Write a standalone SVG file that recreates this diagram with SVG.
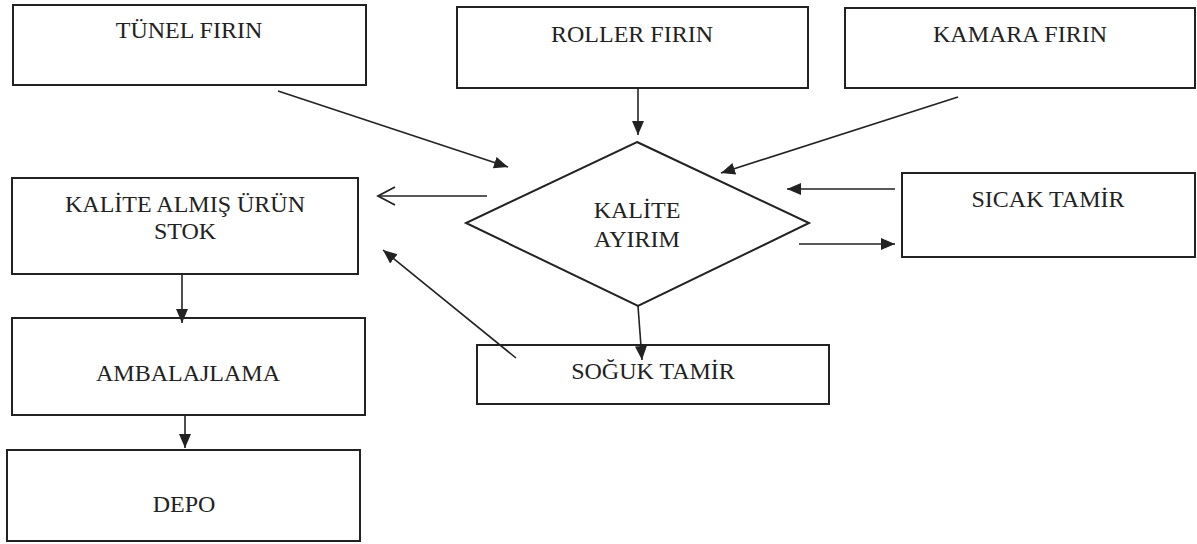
<svg xmlns="http://www.w3.org/2000/svg" width="1197" height="544" viewBox="0 0 1197 544">
<style>
.box{fill:#fff;stroke:#222;stroke-width:2}
.lbl{font-family:"Liberation Serif","Times New Roman",serif;font-size:24px;fill:#222;text-anchor:middle}
.con{stroke:#222;stroke-width:1.6;fill:none}
</style>
<defs>
<marker id="fa" markerUnits="userSpaceOnUse" markerWidth="16" markerHeight="14" refX="14" refY="6" orient="auto">
<path d="M0,0 L14,6 L0,12 z" fill="#222"/>
</marker>
<marker id="oa" markerUnits="userSpaceOnUse" markerWidth="20" markerHeight="22" refX="18" refY="10" orient="auto">
<path d="M1,1 L18,10 L1,19" fill="none" stroke="#222" stroke-width="1.8"/>
</marker>
</defs>
<rect width="1197" height="544" fill="#fff"/>
<g id="tunel"><rect class="box" x="13" y="5" width="353" height="80"/><text class="lbl" x="189" y="38">TÜNEL FIRIN</text></g>
<g id="roller"><rect class="box" x="457" y="7" width="351" height="81"/><text class="lbl" x="632" y="42">ROLLER FIRIN</text></g>
<g id="kamara"><rect class="box" x="845" y="8" width="350" height="80"/><text class="lbl" x="1020" y="42">KAMARA FIRIN</text></g>
<g id="stok"><rect class="box" x="12" y="178" width="346" height="96"/><text class="lbl" x="185" y="212">KALİTE ALMIŞ ÜRÜN</text><text class="lbl" x="185" y="239">STOK</text></g>
<g id="ambalaj"><rect class="box" x="12" y="318" width="353" height="97"/><text class="lbl" x="188" y="381">AMBALAJLAMA</text></g>
<g id="depo"><rect class="box" x="7" y="450" width="353" height="91"/><text class="lbl" x="184" y="512">DEPO</text></g>
<g id="sicak"><rect class="box" x="902" y="173" width="293" height="84"/><text class="lbl" x="1048" y="207">SICAK TAMİR</text></g>
<g id="soguk"><rect class="box" x="477" y="345" width="352" height="59"/><text class="lbl" x="653" y="379">SOĞUK TAMİR</text></g>
<g id="ayirim"><polygon class="box" points="637,142 809,223 638,306 466,223"/><text class="lbl" x="637" y="218">KALİTE</text><text class="lbl" x="637" y="247">AYIRIM</text></g>
<g id="connectors">
<line class="con" x1="278" y1="91" x2="508" y2="167" marker-end="url(#fa)"/>
<line class="con" x1="638" y1="88" x2="638" y2="135" marker-end="url(#fa)"/>
<line class="con" x1="958" y1="97" x2="721" y2="173" marker-end="url(#fa)"/>
<line class="con" x1="487" y1="196" x2="378" y2="196" marker-end="url(#oa)"/>
<line class="con" x1="895" y1="189" x2="787" y2="189" marker-end="url(#fa)"/>
<line class="con" x1="799" y1="244" x2="895" y2="244" marker-end="url(#fa)"/>
<line class="con" x1="638" y1="306" x2="642" y2="360" marker-end="url(#fa)"/>
<line class="con" x1="516" y1="358" x2="383" y2="250" marker-end="url(#fa)"/>
<line class="con" x1="182" y1="274" x2="182" y2="323" marker-end="url(#fa)"/>
<line class="con" x1="185" y1="415" x2="185" y2="448" marker-end="url(#fa)"/>
</g>
</svg>
